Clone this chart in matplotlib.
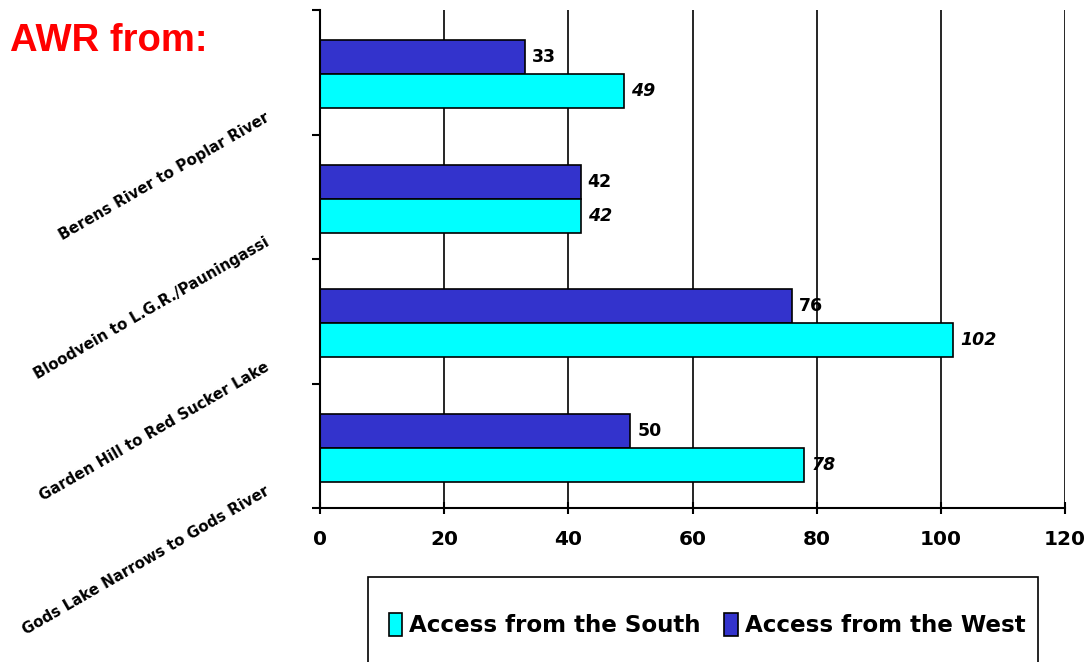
import matplotlib.pyplot as plt
from matplotlib.patches import Rectangle
from matplotlib.transforms import blended_transform_factory, offset_copy
import numpy as np

# Данные
routes = ['Berens River to Poplar River', 'Bloodvein to L.G.R./Pauningassi',
          'Garden Hill to Red Sucker Lake', 'Gods Lake Narrows to Gods River']
south = [49, 42, 102, 78]
west = [33, 42, 76, 50]
x_ticks = [0, 20, 40, 60, 80, 100, 120]

W, H = 1090, 662
fig = plt.figure(figsize=(W / 100, H / 100), dpi=100)
ax = fig.add_axes([320 / W, 1 - 508 / H, (1065 - 320) / W, (508 - 10) / H])

pos = np.arange(len(routes))
h = 0.273
bw = ax.barh(pos - h / 2 + 0.015, west, height=h, color='#3333CC', edgecolor='black',
             linewidth=1.2, label='Access from the West')
bs = ax.barh(pos + h / 2 + 0.015, south, height=h, color='#00FFFF', edgecolor='black',
             linewidth=1.2, label='Access from the South')

for rect, v in zip(bw, west):
    ax.annotate(str(v), (rect.get_width(), rect.get_y() + rect.get_height() / 2),
                xytext=(5, 0), textcoords='offset points', va='center', ha='left',
                fontsize=12.5, fontweight='bold', fontfamily='DejaVu Sans')
for rect, v in zip(bs, south):
    ax.annotate(str(v), (rect.get_width(), rect.get_y() + rect.get_height() / 2),
                xytext=(5, 0), textcoords='offset points', va='center', ha='left',
                fontsize=12.5, fontweight='bold', fontstyle='italic', fontfamily='DejaVu Sans')

ax.set_xlim(0, 120)
ax.set_ylim(len(routes) - 0.5, -0.5)
ax.set_xticks(x_ticks)
ax.set_xticklabels([str(t) for t in x_ticks], fontsize=14.5, fontweight='bold')
ax.tick_params(axis='x', direction='inout', length=8, width=1.5, pad=12)
ax.set_yticks(np.arange(len(routes) + 1) - 0.5)
ax.set_yticklabels([])
ax.tick_params(axis='y', direction='out', length=6, width=1.5)
ax.xaxis.grid(True, color='black', linewidth=1.2)
ax.set_axisbelow(True)
for s in ['top', 'right']:
    ax.spines[s].set_visible(False)
for s in ['left', 'bottom']:
    ax.spines[s].set_linewidth(1.5)

# подписи категорий (правый конец чуть выше нижней границы группы)
trans = offset_copy(blended_transform_factory(ax.transAxes, ax.transData),
                    fig=fig, x=0, y=18, units='dots')
for i, name in enumerate(routes):
    ax.text((268 - 320) / (1065 - 320), i + 0.5, name, transform=trans,
            rotation=30, rotation_mode='anchor', ha='right', va='center',
            fontsize=10.8, fontweight='bold', clip_on=False)

fig.text(10 / W, 1 - 41 / H, 'AWR from:', color='red', fontsize=27.5, fontweight='bold',
         fontfamily='Liberation Sans', va='center', ha='left')

# легенда
fig.patches.append(Rectangle((368 / W, -0.05), (1038 - 368) / W, (1 - 577 / H) + 0.05,
                             transform=fig.transFigure, fill=False, edgecolor='black',
                             linewidth=1.2))
fig.legend(handles=[bs, bw], loc='center', bbox_to_anchor=(707 / W, 1 - 625 / H),
           ncol=2, frameon=False, prop={'weight': 'bold', 'size': 16.6},
           handlelength=0.6, handleheight=1.2, handletextpad=0.3, columnspacing=1.0)

plt.savefig('out.png', dpi=100)
plt.close()
